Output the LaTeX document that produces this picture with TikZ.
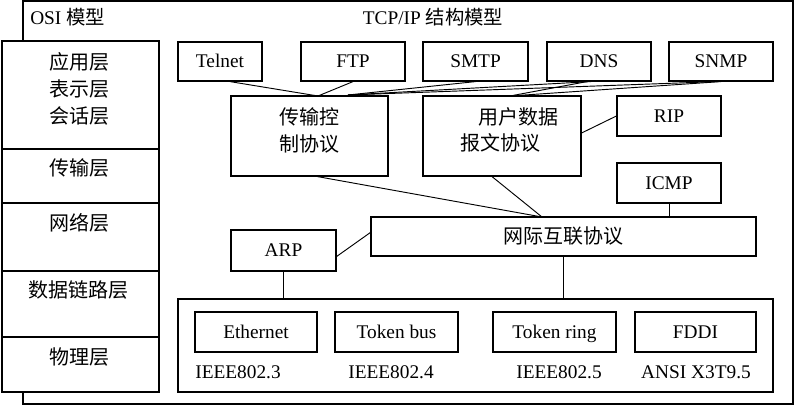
\documentclass[tikz,border=0pt]{standalone}
\usepackage{fontspec}
\setmainfont{Liberation Serif}
\newfontfamily\cjk{Noto Sans CJK SC}
\begin{document}
\begin{tikzpicture}[x=0.75pt,y=-0.75pt,
  box/.style={draw, line width=0.9pt, inner sep=0pt, fill=white, font=\fontsize{14.5}{16}\selectfont, text height=9.5pt, text depth=0pt},
  lbl/.style={inner sep=0pt, font=\fontsize{14.5}{16}\selectfont},
  zh/.style={inner sep=0pt, font=\fontsize{15}{20.25}\selectfont\cjk},
  link/.style={line width=0.7pt}]
\useasboundingbox (0,0) rectangle (797,406);
% outer frame
\node[box, minimum width=577.5pt, minimum height=302.25pt] (frame) at (408,202.5) {};
% OSI column
\node[box, minimum width=117.75pt, minimum height=81pt] (osiA) at (80.5,95) {};
\node[box, minimum width=117.75pt, minimum height=40.5pt] (osiB) at (80.5,176) {};
\node[box, minimum width=117.75pt, minimum height=51pt] (osiC) at (80.5,237) {};
\node[box, minimum width=117.75pt, minimum height=49.5pt] (osiD) at (80.5,304) {};
\node[box, minimum width=117.75pt, minimum height=41.25pt] (osiE) at (80.5,364.5) {};
\node[zh, align=center] (tA) at (80,89) {应用层\\表示层\\会话层};
\node[zh] (tB) at (80,168) {传输层};
\node[zh] (tC) at (80,223) {网络层};
\node[zh] (tD) at (78,290) {数据链路层};
\node[zh] (tE) at (80,357) {物理层};
% titles
\node[lbl, anchor=west] (osititle) at (30,17) {OSI {\cjk 模型}};
\node[lbl] (tcptitle) at (433,17) {TCP/IP {\cjk 结构模型}};
% application boxes
\node[box, minimum width=63pt, minimum height=29.25pt] (telnet) at (220,61.5) {Telnet};
\node[box, minimum width=78pt, minimum height=29.25pt] (ftp) at (353,61.5) {FTP};
\node[box, minimum width=78.75pt, minimum height=29.25pt] (smtp) at (475.5,61.5) {SMTP};
\node[box, minimum width=78pt, minimum height=29.25pt] (dns) at (599,61.5) {DNS};
\node[box, minimum width=78pt, minimum height=29.25pt] (snmp) at (721,61.5) {SNMP};
% transport
\node[box, minimum width=117.75pt, minimum height=60pt] (tcp) at (309.5,136) {};
\node[zh, align=center] (tcptext) at (309,130) {传输控\\制协议};
\node[box, minimum width=118.5pt, minimum height=60pt] (udp) at (502,136) {};
\node[zh] (udptext1) at (518,117) {用户数据};
\node[zh] (udptext2) at (500,143) {报文协议};
\node[box, minimum width=78pt, minimum height=30pt] (rip) at (669,116) {RIP};
\node[box, minimum width=78pt, minimum height=30pt] (icmp) at (669,183) {ICMP};
% network
\node[box, minimum width=288.75pt, minimum height=29.25pt, font=\fontsize{15}{16}\selectfont\cjk, text height=11pt] (ip) at (563.5,236.5) {网际互联协议};
\node[box, minimum width=78.75pt, minimum height=30.75pt] (arp) at (283.5,250.5) {ARP};
% link layer container
\node[box, minimum width=446.25pt, minimum height=69.75pt] (net) at (475.5,345.5) {};
\node[box, minimum width=91.5pt, minimum height=30pt] (eth) at (256,332) {Ethernet};
\node[box, minimum width=92.25pt, minimum height=30pt] (tbus) at (396.5,332) {Token bus};
\node[box, minimum width=92.25pt, minimum height=30pt] (tring) at (554.5,332) {Token ring};
\node[box, minimum width=90.75pt, minimum height=30pt] (fddi) at (695.5,332) {FDDI};
\node[lbl] (s1) at (238,372) {IEEE802.3};
\node[lbl] (s2) at (391,372) {IEEE802.4};
\node[lbl] (s3) at (559,372) {IEEE802.5};
\node[lbl] (s4) at (696,372) {ANSI X3T9.5};
% junction points
\coordinate (tcpin1) at (318,96);
\coordinate (tcpin2) at (348,95);
\coordinate (udpin) at (510,96);
\coordinate (ipin) at (542,217);
% connectors
\draw[link] ([xshift=7.5pt]telnet.south) -- (tcpin1);
\draw[link] (ftp.south) -- (tcpin1);
\draw[link] (smtp.south) -- (tcpin2);
\draw[link] ([xshift=-6pt]dns.south) -- (tcpin2);
\draw[link] ([xshift=-3pt]snmp.south) -- (tcpin2);
\draw[link] ([xshift=-9pt]dns.south) -- (udpin);
\draw[link] (snmp.south) -- (udpin);
\draw[link] (rip.west) -- ([yshift=2.25pt]udp.east);
\draw[link] ([xshift=6pt]tcp.south) -- (ipin);
\draw[link] ([xshift=-7.5pt]udp.south) -- (ipin);
\draw[link] (icmp.south) -- (icmp.south |- ip.north);
\draw[link] ([yshift=-4.5pt]arp.east) -- ([yshift=3pt]ip.west);
\draw[link] (arp.south) -- (arp.south |- net.north);
\draw[link] (ip.south) -- (ip.south |- net.north);
\end{tikzpicture}
\end{document}
